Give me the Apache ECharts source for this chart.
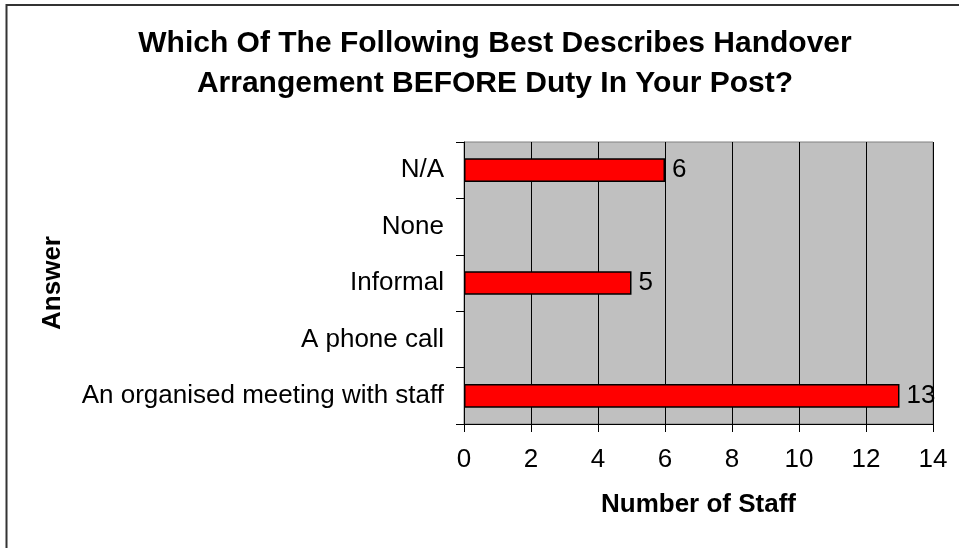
<!DOCTYPE html>
<html>
<head>
<meta charset="utf-8">
<script src="https://cdn.jsdelivr.net/npm/echarts@6/dist/echarts.min.js"></script>
<style>
    html, body { margin: 0; padding: 0; background: #fff; }
    #chart { width: 959px; height: 548px; }
</style>
</head>
<body>
<div id="chart"></div>
<script>
    // categories bottom to top, as in the picture
    var answers = ['An organised meeting with staff', 'A phone call', 'Informal', 'None', 'N/A'];
    var staffCount = [13, 0, 5, 0, 6];
    var xTicks = [0, 2, 4, 6, 8, 10, 12, 14];

    var font = 'Arial, "Liberation Sans", sans-serif';
    var chart = echarts.init(document.getElementById('chart'));

    // zero bars get no outline so no stub shows at the axis
    var barData = staffCount.map(function (v) {
        return v ? v : { value: v, itemStyle: { borderWidth: 0 } };
    });

    chart.setOption({
        backgroundColor: '#fff',
        animation: false,
        title: {
            text: 'Which Of The Following Best Describes Handover\nArrangement BEFORE Duty In Your Post?',
            left: 490,
            top: 19,
            textAlign: 'center',
            textStyle: {
                fontFamily: font,
                fontSize: 30,
                fontWeight: 'bold',
                color: '#000',
                lineHeight: 40
            }
        },
        graphic: [
            {
                // frame: only top and left edges fall inside the picture
                type: 'rect',
                shape: { x: 6.5, y: 5, width: 1000, height: 1000 },
                style: { fill: 'none', stroke: '#333', lineWidth: 2 },
                silent: true
            }
        ],
        grid: {
            left: 464,
            right: 26,
            top: 142,
            bottom: 124,
            show: true,
            backgroundColor: '#c0c0c0',
            borderColor: '#808080',
            borderWidth: 1
        },
        xAxis: {
            type: 'value',
            min: xTicks[0],
            max: xTicks[xTicks.length - 1],
            interval: 2,
            name: 'Number of Staff',
            nameLocation: 'middle',
            nameGap: 68,
            nameTextStyle: { fontFamily: font, fontSize: 26, fontWeight: 'bold', color: '#000' },
            axisLine: { show: true, lineStyle: { color: '#000', width: 1 } },
            axisTick: { show: true, length: 8, lineStyle: { color: '#000' } },
            axisLabel: { fontFamily: font, fontSize: 26, color: '#000', margin: 23 },
            splitLine: { show: true, lineStyle: { color: '#000', width: 1 } }
        },
        yAxis: {
            type: 'category',
            data: answers,
            name: 'Answer',
            nameLocation: 'middle',
            nameGap: 398,
            nameRotate: 90,
            nameTextStyle: { fontFamily: font, fontSize: 26, fontWeight: 'bold', color: '#000' },
            axisLine: { show: true, lineStyle: { color: '#000', width: 1 } },
            axisTick: { show: true, length: 8, lineStyle: { color: '#000' } },
            axisLabel: { fontFamily: font, fontSize: 26, color: '#000', margin: 20 },
            splitLine: { show: false }
        },
        series: [
            {
                type: 'bar',
                data: barData,
                barWidth: '42%',
                itemStyle: { color: '#ff0000', borderColor: '#000', borderWidth: 1.5 },
                label: {
                    show: true,
                    position: 'right',
                    distance: 7,
                    fontFamily: font,
                    fontSize: 26,
                    color: '#000',
                    formatter: function (p) { return p.value ? String(p.value) : ''; }
                }
            }
        ]
    });
</script>
</body>
</html>
